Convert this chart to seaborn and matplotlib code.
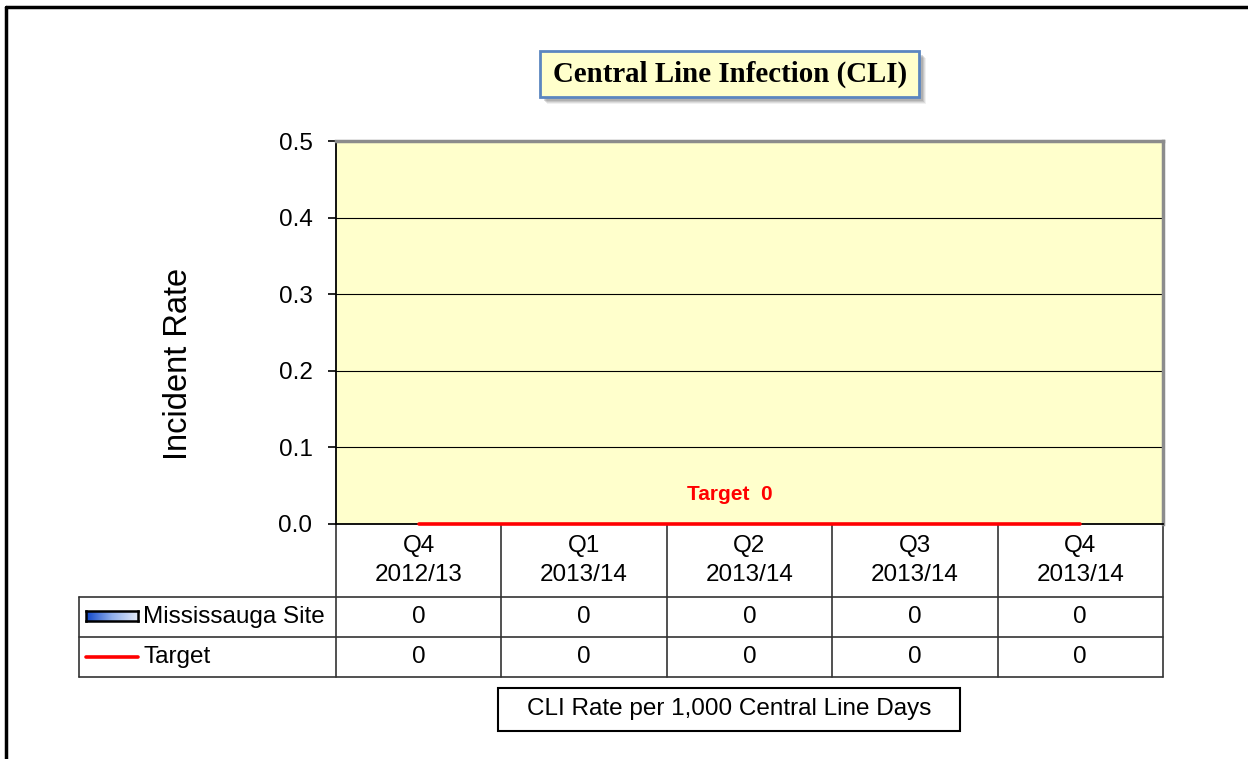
import numpy as np
import pandas as pd
import matplotlib
matplotlib.use("Agg")
import matplotlib.pyplot as plt
import matplotlib.transforms as mtransforms
from matplotlib.patches import Rectangle
from matplotlib.lines import Line2D
import seaborn as sns

# data
quarters = ["Q4\n2012/13", "Q1\n2013/14", "Q2\n2013/14", "Q3\n2013/14", "Q4\n2013/14"]
site_rate = [0, 0, 0, 0, 0]
target_rate = [0, 0, 0, 0, 0]
row_names = ["Mississauga Site", "Target"]
yticks = [0.0, 0.1, 0.2, 0.3, 0.4, 0.5]

sns.set_style("white")
plt.rcParams["font.family"] = ["Liberation Sans", "DejaVu Sans"]
plt.rcParams.update({"text.color": "black", "axes.labelcolor": "black",
                     "ytick.color": "black", "xtick.color": "black"})

W, H = 1248, 759
fig = plt.figure(figsize=(W / 100, H / 100), dpi=100)
fig.patch.set_facecolor("white")

FS = 17.5


def fx(px):
    return px / W


def fy(py):
    return 1 - py / H


# plot area
ax = fig.add_axes([fx(336), fy(524), fx(1163) - fx(336), fy(141) - fy(524)])
ax.set_facecolor("#FFFFCC")

df = pd.DataFrame({"Quarter": quarters, "Rate": site_rate, "Target": target_rate})
df["pos"] = np.arange(len(df))

sns.barplot(data=df, x="Quarter", y="Rate", color="#3A6FD8", width=0.5, ax=ax)
sns.lineplot(data=df, x="pos", y="Target", color="#FF0000", linewidth=2.6, ax=ax, zorder=5)
for line in ax.lines:
    line.set_clip_on(False)

ax.set_xlim(-0.5, len(quarters) - 0.5)
ax.set_ylim(0, 0.5)
ax.set_yticks(yticks)
ax.set_yticklabels([f"{v:.1f}" for v in yticks], fontsize=FS, color="black")
ax.set_xticks([])
ax.set_xlabel("")
ax.tick_params(axis="y", direction="out", length=6, width=1.2, color="black", pad=11, left=True)
ax.yaxis.grid(True, color="black", linewidth=0.8)
ax.set_axisbelow(True)
ax.set_ylabel("Incident Rate", fontsize=23.5, color="black")
ax.yaxis.set_label_coords(-0.172, 0.418)

for side in ["top", "right"]:
    ax.spines[side].set_color("#8C8C8C")
    ax.spines[side].set_linewidth(2.5)
for side in ["left", "bottom"]:
    ax.spines[side].set_color("black")
    ax.spines[side].set_linewidth(1.3)

ax.text(1.88, 0.039, "Target  0", color="#FF0000", fontsize=15, fontweight="bold",
        ha="center", va="center")

# data table under the axis
trans = mtransforms.blended_transform_factory(ax.transData, ax.transAxes)
h_row1 = -(597 - 524) / 383
h_row2 = -(637 - 524) / 383
h_row3 = -(677 - 524) / 383
left_col = (79 - 336) / 827

for i, q in enumerate(quarters):
    ax.text(i, (0 + h_row1) / 2, q, transform=trans, ha="center", va="center",
            fontsize=FS, linespacing=1.45)
    ax.text(i, (h_row1 + h_row2) / 2, str(site_rate[i]), transform=trans,
            ha="center", va="center", fontsize=FS)
    ax.text(i, (h_row2 + h_row3) / 2, str(target_rate[i]), transform=trans,
            ha="center", va="center", fontsize=FS)

for k in range(len(quarters) + 1):
    ax.add_line(Line2D([k - 0.5, k - 0.5], [0, h_row3], transform=trans,
                       color="#333333", linewidth=1.2, clip_on=False))
for yy in [h_row1, h_row2, h_row3]:
    ax.add_line(Line2D([left_col, 1], [yy, yy], transform=ax.transAxes,
                       color="#333333", linewidth=1.2, clip_on=False))
ax.add_line(Line2D([left_col, left_col], [h_row1, h_row3], transform=ax.transAxes,
                   color="#333333", linewidth=1.2, clip_on=False))

key_l = (86 - 336) / 827
key_r = (138 - 336) / 827
text_x = (143 - 336) / 827
ax.text(text_x, (h_row1 + h_row2) / 2, row_names[0], transform=ax.transAxes,
        ha="left", va="center", fontsize=FS)
ax.text(text_x, (h_row2 + h_row3) / 2, row_names[1], transform=ax.transAxes,
        ha="left", va="center", fontsize=FS)
ax.add_line(Line2D([key_l, key_r], [(h_row2 + h_row3) / 2] * 2, transform=ax.transAxes,
                   color="#FF0000", linewidth=2.6, clip_on=False))

# gradient legend key for the site series
kax = fig.add_axes([fx(86), fy(621), fx(138) - fx(86), fy(611) - fy(621)])
grad = np.linspace(0, 1, 256).reshape(1, -1)
cmap = matplotlib.colors.LinearSegmentedColormap.from_list("key", ["#0F45C8", "#8FAEEC", "#E4EAF8"])
kax.imshow(grad, aspect="auto", cmap=cmap)
kax.set_xticks([])
kax.set_yticks([])
for s in kax.spines.values():
    s.set_color("black")
    s.set_linewidth(1.8)

# title box with shadow
for off, a in [(7, 0.10), (6, 0.15), (5, 0.2), (4, 0.25)]:
    fig.patches.append(Rectangle((fx(540 + off), fy(97 + off)), fx(379), fy(0) - fy(46),
                                 transform=fig.transFigure, facecolor="#707070",
                                 edgecolor="none", alpha=a, zorder=1))
fig.patches.append(Rectangle((fx(540), fy(97)), fx(379), fy(0) - fy(46),
                             transform=fig.transFigure, facecolor="#FFFFCC",
                             edgecolor="#5B86C0", linewidth=2, zorder=2))
fig.text(fx(730), fy(74), "Central Line Infection (CLI)", ha="center", va="center",
         fontsize=20.8, fontweight="bold", family=["Liberation Serif", "DejaVu Serif"], zorder=3)

# footer box
fig.patches.append(Rectangle((fx(498), fy(731)), fx(462), fy(0) - fy(43),
                             transform=fig.transFigure, facecolor="white",
                             edgecolor="black", linewidth=1.5))
fig.text(fx(729), fy(709.5), "CLI Rate per 1,000 Central Line Days", ha="center",
         va="center", fontsize=FS)

# outer chart frame (only left and top visible)
fig.lines.append(Line2D([fx(5.5), fx(5.5)], [0, fy(6.5)], transform=fig.transFigure,
                        color="black", linewidth=2.5))
fig.lines.append(Line2D([fx(5.5), 1], [fy(6.5), fy(6.5)], transform=fig.transFigure,
                        color="black", linewidth=2.5))

fig.savefig("out.png", dpi=100)
